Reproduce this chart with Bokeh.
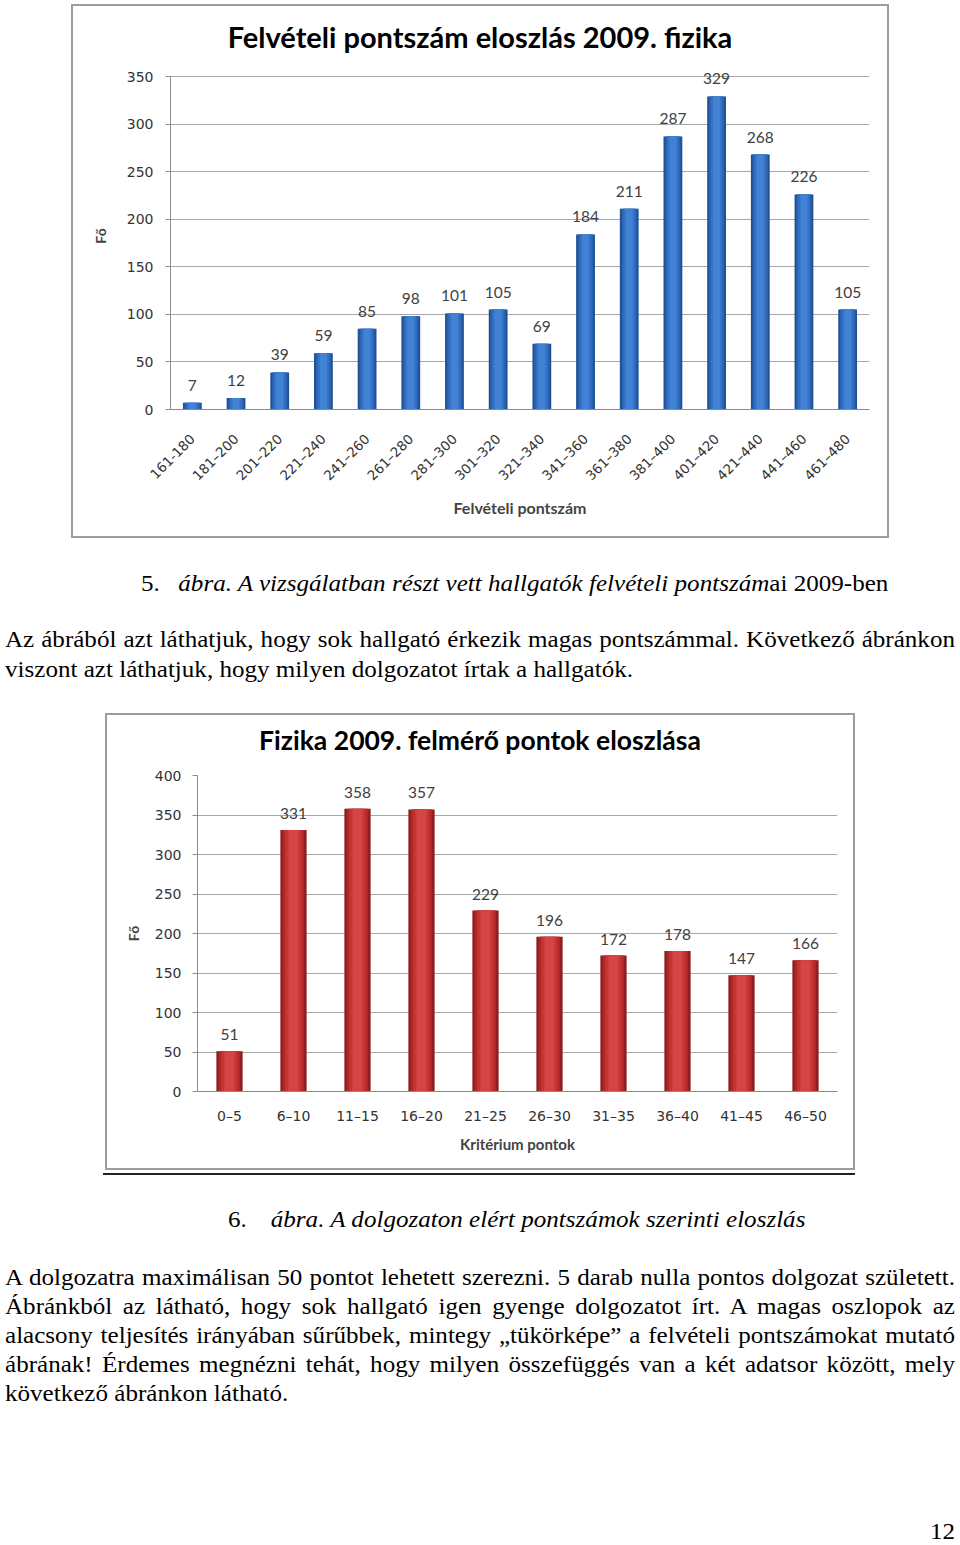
from bokeh.plotting import figure
from bokeh.models import FactorRange, Range1d, FixedTicker, Div, Spacer, ColumnDataSource
from bokeh.layouts import column, row
from bokeh.embed import file_html
from bokeh.resources import INLINE
from bokeh.core.properties import value
import math

# ---------------- data ----------------
chart1_title = "Felvételi pontszám eloszlás 2009. fizika"
chart1_xlabel = "Felvételi pontszám"
chart1_ylabel = "Fő"
chart1_categories = ["161-180", "181–200", "201–220", "221–240", "241–260", "261–280",
                     "281–300", "301–320", "321–340", "341–360", "361–380", "381–400",
                     "401–420", "421–440", "441–460", "461–480"]
chart1_values = [7, 12, 39, 59, 85, 98, 101, 105, 69, 184, 211, 287, 329, 268, 226, 105]
chart1_yticks = [0, 50, 100, 150, 200, 250, 300, 350]

chart2_title = "Fizika 2009. felmérő pontok eloszlása"
chart2_xlabel = "Kritérium pontok"
chart2_ylabel = "Fő"
chart2_categories = ["0–5", "6–10", "11–15", "16–20", "21–25", "26–30",
                     "31–35", "36–40", "41–45", "46–50"]
chart2_values = [51, 331, 358, 357, 229, 196, 172, 178, 147, 166]
chart2_yticks = [0, 50, 100, 150, 200, 250, 300, 350, 400]

caption1_num = "5."
caption1_italic = "ábra. A vizsgálatban részt vett hallgatók felvételi pontszám"
caption1_rest = "ai 2009-ben"
para1_lines = [
    "Az ábrából azt láthatjuk, hogy sok hallgató érkezik magas pontszámmal. Következő ábránkon",
    "viszont azt láthatjuk, hogy milyen dolgozatot írtak a hallgatók.",
]
caption2_num = "6."
caption2_italic = "ábra. A dolgozaton elért pontszámok szerinti eloszlás"
para2_lines = [
    "A dolgozatra maximálisan 50 pontot lehetett szerezni. 5 darab nulla pontos dolgozat született.",
    "Ábránkból az látható, hogy sok hallgató igen gyenge dolgozatot írt. A magas oszlopok az",
    "alacsony teljesítés irányában sűrűbbek, mintegy „tükörképe” a felvételi pontszámokat mutató",
    "ábrának! Érdemes megnézni tehát, hogy milyen összefüggés van a két adatsor között, mely",
    "következő ábránkon látható.",
]
page_number = "12"

BORDER = "#9c9c9c"


# ---------------- charts ----------------
def make_chart(cfg, cats, vals, yticks, xlabel, ylabel, shades):
    ytop = yticks[-1]
    p = figure(x_range=FactorRange(factors=cats), y_range=Range1d(0, cfg["yend"]),
               width=cfg["w"], height=cfg["h"], output_backend="svg", toolbar_location=None,
               min_border_left=cfg["mbl"], min_border_right=cfg["mbr"],
               min_border_top=cfg["mbt"], min_border_bottom=cfg["mbb"],
               background_fill_color="white", border_fill_color="white")
    p.outline_line_color = None
    p.title.text = ""

    src = ColumnDataSource(dict(cat=cats, val=vals, lbl=[str(v) for v in vals]))
    fracs = [1.0, 0.82, 0.62, 0.38]
    for f, c in zip(fracs, shades):
        p.vbar(x="cat", top="val", width=cfg["bw"] * f, source=src,
               fill_color=c, line_color=None)
    p.text(x="cat", y="val", text="lbl", source=src, text_align="center",
           text_baseline="bottom", y_offset=cfg["lbl_off"], text_font=value("Lato"),
           text_font_size="15.5px", text_color="#404040")

    p.xgrid.grid_line_color = None
    p.ygrid.grid_line_color = "#a8a8a8"
    p.ygrid.grid_line_width = 1

    p.yaxis.ticker = FixedTicker(ticks=yticks)
    p.yaxis.bounds = (0, ytop)
    p.yaxis.major_tick_out = 5
    p.yaxis.major_tick_in = 0
    p.yaxis.minor_tick_line_color = None
    p.yaxis.major_tick_line_color = "#8c8c8c"
    p.yaxis.axis_line_color = "#8c8c8c"
    p.yaxis.major_label_text_font = "DejaVu Sans"
    p.yaxis.major_label_text_font_size = "14px"
    p.yaxis.major_label_text_color = "#333333"
    p.yaxis.major_label_standoff = cfg["yl_so"]
    p.yaxis.axis_label = ylabel
    p.yaxis.axis_label_text_font = "Lato"
    p.yaxis.axis_label_text_font_size = "14px"
    p.yaxis.axis_label_text_font_style = "bold"
    p.yaxis.axis_label_standoff = cfg["ya_so"]

    p.xaxis.major_tick_line_color = None
    p.xaxis.minor_tick_line_color = None
    p.xaxis.axis_line_color = "#8c8c8c"
    p.xaxis.major_label_text_font = "DejaVu Sans"
    p.xaxis.major_label_text_font_size = cfg["xl_fs"]
    p.xaxis.major_label_text_color = "#333333"
    p.xaxis.major_label_standoff = cfg["xl_so"]
    if cfg["rot"]:
        p.xaxis.major_label_orientation = cfg["rot"]
    p.xaxis.axis_label = xlabel
    p.xaxis.axis_label_text_font = "Lato"
    p.xaxis.axis_label_text_font_size = cfg["xa_fs"]
    p.xaxis.axis_label_text_font_style = "bold"
    p.xaxis.axis_label_standoff = cfg["xa_so"]
    return p


def bar_div(w, h):
    return Div(text="", width=w, height=h, margin=0,
               styles={"background-color": BORDER})


def title_div(text, w, h, top, fs, lh):
    html = ('<div style="position:relative; width:%dpx; height:%dpx;">'
            '<div style="position:absolute; left:0; top:%.1fpx; width:%dpx; text-align:center; '
            'font-family:Lato, sans-serif; font-weight:bold; font-size:%s; line-height:%dpx; '
            'color:#000; white-space:nowrap;">%s</div></div>' % (w, h, top, w, fs, lh, text))
    return Div(text=html, width=w, height=h, margin=0,
               styles={"background-color": "white", "overflow": "visible"})


def boxed(title, fig, w, h):
    return column(
        bar_div(w, 2),
        row(bar_div(2, h - 4), column(title, fig), bar_div(2, h - 4)),
        bar_div(w, 2),
    )


blue = ["#1f4f94", "#2a62b0", "#3572c5", "#4282d4"]
red = ["#8e1d1d", "#b02a2a", "#c73535", "#d64545"]

# chart 1: inner box y 6..536, title strip 50px, figure 480px (frame 350 at y=76, 0 at y=409)
cfg1 = dict(w=814, h=480, mbl=97, mbr=18, mbt=6, mbb=127,
            yend=350 * (409 - 62) / (409 - 76),
            bw=0.43, lbl_off=-12, yl_so=12, ya_so=15, xl_fs="13.5px",
            xl_so=21, rot=math.pi / 4, xa_fs="16px", xa_so=6)
# chart 2: inner box y 715..1168, title strip 44px, figure 409px
cfg2 = dict(w=746, h=409, mbl=90, mbr=16, mbt=16, mbb=77, yend=400,
            bw=0.41, lbl_off=-11, yl_so=11, ya_so=10, xl_fs="14px",
            xl_so=10, rot=None, xa_fs="15px", xa_so=8)

fig1 = make_chart(cfg1, chart1_categories, chart1_values, chart1_yticks,
                  chart1_xlabel, chart1_ylabel, blue)
fig2 = make_chart(cfg2, chart2_categories, chart2_values, chart2_yticks,
                  chart2_xlabel, chart2_ylabel, red)
t1 = title_div(chart1_title, 814, 50, 12.7, "29px", 35)
t2 = title_div(chart2_title, 746, 44, 9.3, "26.5px", 32)

# ---------------- text blocks ----------------
SERIF = "'Liberation Serif', 'Times New Roman', serif"
SX = 1.09
JW = 950 / SX


def line(html, top, left, width=None, justify=False):
    st = ("position:absolute; top:%.1fpx; left:%.1fpx; font-family:%s; font-size:23px; "
          "line-height:25px; color:#000; white-space:nowrap; transform:scaleX(%.3f); "
          "transform-origin:0 0;" % (top, left, SERIF, SX))
    if justify:
        st += " width:%.2fpx; text-align:justify; text-align-last:justify;" % width
    return '<div style="%s">%s</div>' % (st, html)


def caption(num, italic, rest, gap):
    return ('%s<span style="font-style:italic; margin-left:%dpx;">%s</span>%s'
            % (num, gap, italic, rest))


def block(parts, h):
    return Div(text='<div style="position:relative; width:960px; height:%dpx;">%s</div>'
                    % (h, ''.join(parts)),
               width=960, height=h, margin=0, styles={"overflow": "visible"})


divA = block([
    line(caption(caption1_num, caption1_italic, caption1_rest, 17), 32.7, 141),
    line(para1_lines[0], 89.0, 5, JW, True),
    line(para1_lines[1], 119.0, 5),
], 175)

# block B starts right under chart 2 (y = 1170) and holds the rule, caption, text, page no.
tops2 = [95.2, 124.2, 153.2, 182.2, 211.2]
partsB = ['<div style="position:absolute; left:103px; top:3px; width:752px; height:2px; '
          'background:#222;"></div>',
          line(caption(caption2_num, caption2_italic, "", 22), 37.2, 228)]
for i, t in enumerate(para2_lines):
    last = (i == len(para2_lines) - 1)
    partsB.append(line(t, tops2[i], 5, JW, not last))
partsB.append(
    '<div style="position:absolute; top:354px; right:5px; font-family:%s; font-size:23px; '
    'line-height:16px; transform:scaleX(%.3f); transform-origin:100%% 0;">%s</div>'
    % (SERIF, SX, page_number))
divB = block(partsB, 375)

layout = column(
    Spacer(width=960, height=4),
    row(Spacer(width=71, height=534), boxed(t1, fig1, 818, 534)),
    divA,
    row(Spacer(width=105, height=457), boxed(t2, fig2, 750, 457)),
    divB,
)

open("out.html", "w").write(file_html(layout, INLINE))
